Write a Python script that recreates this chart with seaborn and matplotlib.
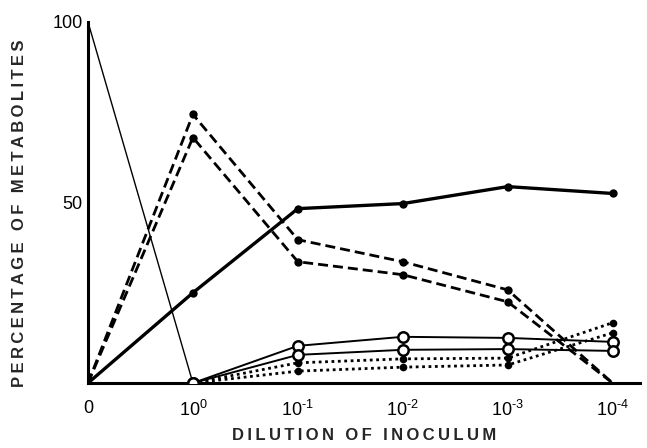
import matplotlib
matplotlib.use("Agg")
import matplotlib.pyplot as plt
import numpy as np
import pandas as pd
import seaborn as sns

# Dilution steps of the inoculum (categorical positions 0..5)
dilution_labels = ["0", r"10$^{\text{0}}$", r"10$^{\text{-1}}$", r"10$^{\text{-2}}$",
                   r"10$^{\text{-3}}$", r"10$^{\text{-4}}$"]
steps_all = [0, 1, 2, 3, 4, 5]
steps_diluted = [1, 2, 3, 4, 5]

# Percentage of metabolites per series
parent_steps = [0, 1]
parent_pct = [100, 0]
main_metab = [0, 25, 48.3, 49.7, 54.4, 52.5]
dashed_hi = [0, 74.4, 39.7, 33.6, 25.8, 0]
dashed_lo = [0, 68.0, 33.6, 30.0, 22.5, 0]
open_hi = [0, 10.3, 12.8, 12.5, 11.4]
open_lo = [0, 7.8, 9.2, 9.4, 8.9]
dot_hi = [0, 5.6, 6.7, 6.9, 16.7]
dot_lo = [0, 3.3, 4.4, 5.0, 13.9]

sns.set_theme(style="white")
plt.rcParams["font.family"] = ["Liberation Sans", "DejaVu Sans"]
plt.rcParams["mathtext.fontset"] = "custom"
plt.rcParams["mathtext.rm"] = "Liberation Sans"
plt.rcParams["axes.unicode_minus"] = False

fig = plt.figure(figsize=(6.47, 4.48), dpi=100)
ax = fig.add_axes([0.136, 0.145, 0.853, 0.806])

k = "black"

# thin line: parent compound disappearing
sns.lineplot(x=parent_steps, y=parent_pct, ax=ax, color=k, lw=1.0)

# dotted series with filled dots (no marker at the common start)
for ys in (dot_hi, dot_lo):
    sns.lineplot(x=steps_diluted, y=ys, ax=ax, color=k, lw=2.0,
                 linestyle=(0, (1, 1.3)), marker="o", markersize=5.5,
                 markevery=slice(1, None), markeredgewidth=0, zorder=3)

# open circle series
for ys in (open_hi, open_lo):
    sns.lineplot(x=steps_diluted, y=ys, ax=ax, color=k, lw=1.4,
                 marker="o", markersize=7.5, markerfacecolor="white",
                 markeredgecolor=k, markeredgewidth=1.8, zorder=4)

# dashed series
for ys in (dashed_hi, dashed_lo):
    sns.lineplot(x=steps_all, y=ys, ax=ax, color=k, lw=2.0,
                 linestyle=(0, (3.6, 1.8)), marker="o", markersize=6,
                 markevery=[1, 2, 3, 4], markeredgewidth=0, zorder=3)

# thick solid series
sns.lineplot(x=steps_all, y=main_metab, ax=ax, color=k, lw=2.4,
             marker="o", markersize=6, markevery=[1, 2, 3, 4, 5],
             markeredgewidth=0, zorder=3)

ax.set_xlim(0, 5.26)
ax.set_ylim(0, 100)

for side in ("top", "right"):
    ax.spines[side].set_visible(False)
for side in ("left", "bottom"):
    ax.spines[side].set_linewidth(2.2)
    ax.spines[side].set_color(k)

ax.set_xticks(steps_all)
ax.set_xticklabels(dilution_labels, fontsize=13)
yt = list(range(0, 101, 10))
ax.set_yticks(yt)
ax.set_yticklabels(["50" if v == 50 else "100" if v == 100 else "" for v in yt],
                   fontsize=13)
ax.tick_params(axis="both", direction="in", length=5, width=1.5, colors=k)
ax.tick_params(axis="x", pad=12)
ax.tick_params(axis="y", pad=4)

sp = "\u2009"
ax.set_xlabel(sp.join("DILUTION OF INOCULUM"), fontsize=12, fontweight="bold",
              labelpad=6)
ax.set_ylabel(sp.join("PERCENTAGE OF METABOLITES"), fontsize=12,
              fontweight="bold", labelpad=17)
ax.yaxis.set_label_coords(-0.11, 0.47)
ax.legend_ = None

fig.savefig("out.png", dpi=100)
